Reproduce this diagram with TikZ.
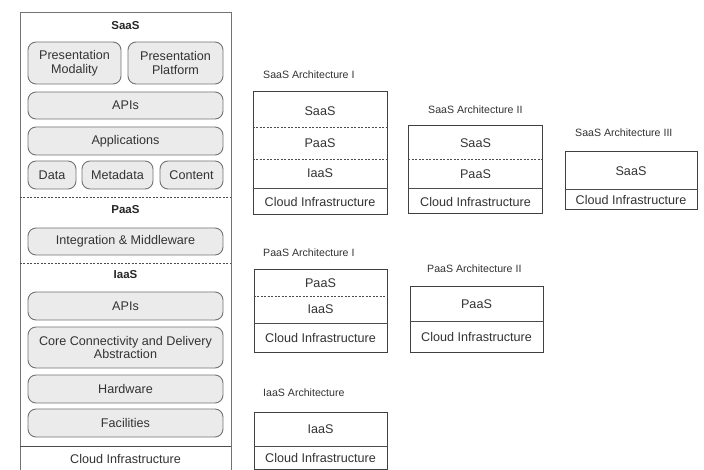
\documentclass[tikz,border=0pt]{standalone}
\usepackage{fontspec}
\setmainfont{Liberation Sans}
\begin{document}
\begin{tikzpicture}[x=1pt,y=-1pt,
  txt/.style={text=black!80, font=\fontsize{12.6}{13.5}\selectfont, inner sep=0pt, align=center},
  lbl/.style={text=black!80, font=\fontsize{10.6}{12}\selectfont, inner sep=0pt, anchor=west},
  ttl/.style={text=black!85, font=\fontsize{11.5}{12}\selectfont\bfseries, inner sep=0pt},
  rbox/.style={draw=black!55, fill=black!8, line width=0.9pt, rounded corners=8pt, txt, inner sep=0pt},
  panel/.style={draw=black!55, line width=0.9pt, inner sep=0pt},
  abox/.style={draw=black!75, line width=1pt, inner sep=0pt},
  sep/.style={draw=black!70, line width=0.8pt},
  dsep/.style={draw=black!70, line width=0.8pt, dash pattern=on 2pt off 1.5pt},
]
\useasboundingbox (0,0) rectangle (704,470);
\fill[white] (0,0) rectangle (704,470);

% ---------- left panel ----------
\node[panel, minimum width=211, minimum height=458] (left) at (125.5,241) {};
\node[ttl] (tsaas) at (125.5,26) {SaaS};
\node[rbox, minimum width=93, minimum height=42] (pm) at (74.5,63) {Presentation\\Modality};
\node[rbox, minimum width=95, minimum height=42] (pp) at (175.5,63) {Presentation\\Platform};
\node[rbox, minimum width=195, minimum height=27] (api1) at (125.5,105.5) {APIs};
\node[rbox, minimum width=195, minimum height=28] (app) at (125.5,141) {Applications};
\node[rbox, minimum width=48, minimum height=28] (data) at (52,175) {Data};
\node[rbox, minimum width=71, minimum height=28] (meta) at (117.5,175) {Metadata};
\node[rbox, minimum width=63, minimum height=28] (cont) at (191.5,175) {Content};
\draw[dsep] (left.west |- 0,197) -- (left.east |- 0,197);
\node[ttl] (tpaas) at (125.5,210) {PaaS};
\node[rbox, minimum width=195, minimum height=27] (integ) at (125.5,241.5) {Integration \& Middleware};
\draw[dsep] (left.west |- 0,263) -- (left.east |- 0,263);
\node[ttl] (tiaas) at (125.5,275) {IaaS};
\node[rbox, minimum width=195, minimum height=28] (api2) at (125.5,306) {APIs};
\node[rbox, minimum width=195, minimum height=41] (core) at (125.5,347.5) {Core Connectivity and Delivery\\Abstraction};
\node[rbox, minimum width=195, minimum height=28] (hw) at (125.5,389) {Hardware};
\node[rbox, minimum width=195, minimum height=28] (fac) at (125.5,423) {Facilities};
\draw[sep] (left.west |- 0,446) -- (left.east |- 0,446);
\node[txt] (lci) at (125.5,459) {Cloud Infrastructure};

% ---------- SaaS Architecture I ----------
\node[lbl] (l1) at (263,75) {SaaS Architecture I};
\node[abox, minimum width=134, minimum height=123] (a1) at (320,153.5) {};
\draw[dsep] (a1.west |- 0,127) -- (a1.east |- 0,127);
\draw[dsep] (a1.west |- 0,159) -- (a1.east |- 0,159);
\draw[sep] (a1.west |- 0,188) -- (a1.east |- 0,188);
\node[txt] (a1s) at (320,111) {SaaS};
\node[txt] (a1p) at (320,143.5) {PaaS};
\node[txt] (a1i) at (320,173.5) {IaaS};
\node[txt] (a1c) at (320,201.5) {Cloud Infrastructure};

% ---------- SaaS Architecture II ----------
\node[lbl] (l2) at (428,110) {SaaS Architecture II};
\node[abox, minimum width=134, minimum height=88] (a2) at (475.5,170) {};
\draw[dsep] (a2.west |- 0,159) -- (a2.east |- 0,159);
\draw[sep] (a2.west |- 0,188) -- (a2.east |- 0,188);
\node[txt] (a2s) at (475.5,143) {SaaS};
\node[txt] (a2p) at (475.5,174) {PaaS};
\node[txt] (a2c) at (475.5,201.5) {Cloud Infrastructure};

% ---------- SaaS Architecture III ----------
\node[lbl] (l3) at (575,133) {SaaS Architecture III};
\node[abox, minimum width=132, minimum height=58] (a3) at (631,181) {};
\draw[sep] (a3.west |- 0,189) -- (a3.east |- 0,189);
\node[txt] (a3s) at (631,171) {SaaS};
\node[txt] (a3c) at (631,200) {Cloud Infrastructure};

% ---------- PaaS Architecture I ----------
\node[lbl] (l4) at (263,253) {PaaS Architecture I};
\node[abox, minimum width=133, minimum height=82] (a4) at (320.5,311) {};
\draw[dsep] (a4.west |- 0,296) -- (a4.east |- 0,296);
\draw[sep] (a4.west |- 0,323) -- (a4.east |- 0,323);
\node[txt] (a4p) at (320.5,283) {PaaS};
\node[txt] (a4i) at (320.5,309.5) {IaaS};
\node[txt] (a4c) at (320.5,337.5) {Cloud Infrastructure};

% ---------- PaaS Architecture II ----------
\node[lbl] (l5) at (427,269) {PaaS Architecture II};
\node[abox, minimum width=133, minimum height=65] (a5) at (476.5,319.5) {};
\draw[sep] (a5.west |- 0,321) -- (a5.east |- 0,321);
\node[txt] (a5p) at (476.5,304) {PaaS};
\node[txt] (a5c) at (476.5,336.5) {Cloud Infrastructure};

% ---------- IaaS Architecture ----------
\node[lbl] (l6) at (263,393) {IaaS Architecture};
\node[abox, minimum width=133, minimum height=57] (a6) at (320.5,440.5) {};
\draw[sep] (a6.west |- 0,446) -- (a6.east |- 0,446);
\node[txt] (a6i) at (320.5,429) {IaaS};
\node[txt] (a6c) at (320.5,458) {Cloud Infrastructure};
\end{tikzpicture}
\end{document}
